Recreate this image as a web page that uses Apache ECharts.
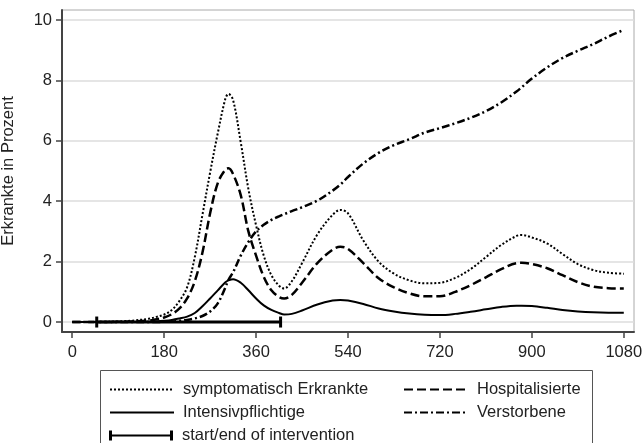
<html>
<head>
<meta charset="utf-8">
<script src="https://cdn.jsdelivr.net/npm/echarts@6/dist/echarts.min.js"></script>
</head>
<body style="margin:0">
<div id="main" style="width:642px;height:443px;"></div>
<script>
// Tage seit Beginn
var days = [0, 30, 60, 90, 120, 150, 165, 180, 195, 210, 225, 240, 255, 270, 285, 300, 306, 315, 330, 345,
  360, 375, 390, 405, 415, 430, 450, 480, 510, 525, 540, 570, 600, 630, 660, 690, 720, 750, 780, 810,
  840, 870, 880, 900, 930, 960, 990, 1020, 1050, 1080];
var symptomatisch = [0, 0, 0.01, 0.02, 0.05, 0.11, 0.17, 0.25, 0.4, 0.7, 1.15, 2.15, 3.55, 4.95, 6.25, 7.4, 7.55, 7.35, 5.95, 4.4,
  3.2, 2.2, 1.55, 1.2, 1.11, 1.35, 1.95, 2.9, 3.55, 3.71, 3.6, 2.7, 2.0, 1.6, 1.38, 1.28, 1.3, 1.46, 1.75, 2.15,
  2.55, 2.85, 2.88, 2.8, 2.6, 2.25, 1.92, 1.72, 1.63, 1.6];
var hospitalisiert = [0, 0, 0, 0.01, 0.02, 0.05, 0.09, 0.15, 0.26, 0.45, 0.78, 1.35, 2.3, 3.6, 4.6, 5.05, 5.09, 4.9, 4.2, 3.0,
  2.2, 1.5, 1.05, 0.83, 0.78, 0.9, 1.3, 1.95, 2.4, 2.49, 2.42, 1.95, 1.45, 1.15, 0.95, 0.85, 0.85, 1.0, 1.22, 1.48,
  1.75, 1.95, 1.96, 1.92, 1.78, 1.55, 1.32, 1.17, 1.12, 1.11];
var intensiv = [0, 0, 0, 0, 0, 0.01, 0.02, 0.04, 0.07, 0.12, 0.18, 0.3, 0.52, 0.78, 1.05, 1.32, 1.38, 1.42, 1.3, 1.05,
  0.78, 0.55, 0.4, 0.3, 0.25, 0.27, 0.38, 0.58, 0.71, 0.73, 0.71, 0.6, 0.45, 0.35, 0.28, 0.24, 0.23, 0.27, 0.34, 0.42,
  0.5, 0.54, 0.54, 0.53, 0.47, 0.4, 0.35, 0.32, 0.31, 0.31];
var verstorben = [0, 0, 0, 0, 0, 0, 0, 0.01, 0.02, 0.04, 0.07, 0.12, 0.2, 0.35, 0.62, 1.15, 1.4, 1.65, 2.2, 2.65,
  3.0, 3.22, 3.38, 3.5, 3.57, 3.67, 3.8, 4.02, 4.35, 4.55, 4.8, 5.25, 5.6, 5.86, 6.05, 6.27, 6.42, 6.58, 6.76, 6.98,
  7.27, 7.63, 7.77, 8.06, 8.43, 8.74, 8.98, 9.2, 9.45, 9.67];
var intervention = [48, 408];
var xTicks = [0, 180, 360, 540, 720, 900, 1080];
var yTicks = [0, 2, 4, 6, 8, 10];

var names = ['symptomatisch Erkrankte', 'Hospitalisierte', 'Intensivpflichtige', 'Verstorbene', 'start/end of intervention'];

function pairs(ys) {
  return days.map(function (d, i) { return [d, ys[i]]; });
}

var font = 'Liberation Sans, Arial, sans-serif';
var chart = echarts.init(document.getElementById('main'), null, { renderer: 'canvas' });

function curve(name, ys, dash, w) {
  return {
    name: name, type: 'line', data: pairs(ys), smooth: 0.35,
    showSymbol: false, symbol: 'none',
    itemStyle: { color: '#000' },
    lineStyle: { color: '#000', width: w, type: dash }
  };
}

// ein Legendenblock pro Eintrag, damit die Anordnung wie im Original ist
function legendItem(name, left, top, icon) {
  var item = icon ? { name: name, icon: icon } : name;
  return {
    orient: 'horizontal', left: left, top: top, itemWidth: 64, itemHeight: 10,
    itemStyle: icon ? { color: '#000' } : { opacity: 0 },
    textStyle: { fontSize: 16.5, color: '#222', fontFamily: font, padding: [0, 0, 0, 4] },
    data: [item]
  };
}

var option = {
  animation: false,
  backgroundColor: '#fff',
  textStyle: { fontFamily: font },
  grid: { left: 62, right: 8, top: 10, bottom: 111, show: true, borderColor: '#aaa', borderWidth: 1, outerBoundsMode: 'none', containLabel: false },
  xAxis: {
    type: 'value', min: -20, max: 1100,
    axisLine: { show: true, onZero: false, lineStyle: { color: '#444', width: 2 } },
    axisTick: { show: true, customValues: xTicks, length: 6, lineStyle: { color: '#444', width: 1.5 } },
    axisLabel: { customValues: xTicks, margin: 12, fontSize: 16.5, color: '#222', fontFamily: font,
      formatter: function (v) { return String(v); } },
    splitLine: { show: false }
  },
  yAxis: {
    type: 'value', min: -0.33, max: 10.33,
    name: 'Erkrankte in Prozent', nameLocation: 'middle', nameGap: 45,
    nameTextStyle: { fontSize: 16.5, color: '#222', fontFamily: font },
    axisLine: { show: true, onZero: false, lineStyle: { color: '#444', width: 2 } },
    axisTick: { show: true, customValues: yTicks, length: 6, lineStyle: { color: '#444', width: 1.5 } },
    axisLabel: { customValues: yTicks, margin: 10, fontSize: 16.5, color: '#222', fontFamily: font },
    splitLine: { show: true, lineStyle: { color: '#dcdcdc', width: 1.5 } }
  },
  legend: [
    legendItem(names[0], 104, 376),
    legendItem(names[1], 398, 376),
    legendItem(names[2], 104, 399),
    legendItem(names[3], 398, 399),
    legendItem(names[4], 104, 422, 'path://M0,0H3V4H61V0H64V10H61V6H3V10H0Z')
  ],
  graphic: [{
    type: 'rect', left: 100, top: 370, z: -1,
    shape: { width: 492, height: 90 },
    style: { fill: '#fff', stroke: '#555', lineWidth: 1 }
  }],
  series: [
    curve(names[0], symptomatisch, [2, 2], 2),
    curve(names[1], hospitalisiert, [9, 4], 2.5),
    curve(names[2], intensiv, 'solid', 2),
    curve(names[3], verstorben, [8, 3, 2, 3], 2.5),
    {
      name: names[4], type: 'line',
      data: intervention.map(function (d) { return [d, 0]; }),
      symbol: 'rect', symbolSize: [3, 11], showSymbol: true,
      itemStyle: { color: '#000' },
      lineStyle: { color: '#000', width: 3 },
      z: 5
    }
  ]
};
chart.setOption(option);
</script>
</body>
</html>
